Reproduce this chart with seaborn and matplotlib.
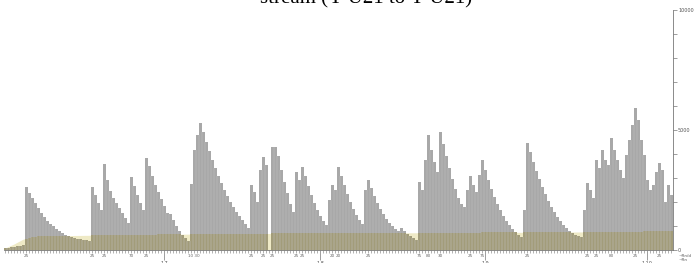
import numpy as np
import pandas as pd
import matplotlib
matplotlib.use('Agg')
import matplotlib.pyplot as plt
import seaborn as sns

# daily streamflow (one bar per day)
flow = [80, 80, 130, 130, 170, 170, 210,
        2630,
        2380, 2170, 1960, 1750, 1540, 1380, 1210, 1080, 1000, 880, 790, 710, 630, 580, 540, 500, 460, 460, 420, 420, 380,
        2630, 2290, 1960, 1670, 3590,
        2920, 2460, 2170, 1960, 1750, 1540, 1330, 1130,
        3040, 2670, 2290, 1960, 1670,
        3840,
        3500, 3090, 2710, 2420, 2130, 1830, 1540, 1500, 1250, 1000, 790, 630, 500, 380,
        2750, 4170, 4800, 5300,
        4920, 4500, 4130, 3750, 3420, 3090, 2790, 2500, 2250, 2000, 1790, 1580, 1420, 1250, 1080, 920,
        2710, 2420, 2000, 3340, 3880, 3540,
        0,
        4300, 4300, 3920, 3340, 2840, 2380, 1920, 1580,
        3250, 2920, 3460, 3090, 2670, 2290, 1960, 1670, 1420, 1210, 1040,
        2090, 2710, 2500, 3460, 3090, 2710, 2340, 2000, 1710, 1460, 1250, 1080,
        2500, 2920, 2590, 2250, 1960, 1710, 1500, 1290, 1130, 1000, 880, 790, 920, 790, 670, 580, 500, 420,
        2840, 2500, 3750, 4800, 4170, 3670, 3250, 4920, 4420, 3920, 3420, 2960, 2540, 2170, 1920, 1790,
        2500, 3090, 2710, 2420, 3130, 3750, 3340, 2920, 2540, 2210, 1920, 1670, 1420, 1210, 1040, 880, 750, 630, 540,
        1670, 4460, 4090, 3670, 3290, 2960, 2630, 2340, 2040, 1790, 1580, 1380, 1210, 1040, 920, 790, 710, 630, 580, 540,
        1670, 2790, 2500, 2170, 3750, 3420, 4170, 3750, 3540, 4670, 4170, 3750, 3340, 3000, 3960, 4590, 5210, 5920,
        5420, 4590, 3960, 2920, 2500, 2710, 3250, 3630, 3340, 2000, 2710, 2290]

# baseflow band (breakpoints)
base_days = [0, 3, 6, 10, 20, 60, 100, 140, 180, 200, 222.5]
base_vals = [80, 250, 450, 560, 600, 660, 700, 720, 740, 760, 780]

# bars drawn darker at event onsets
dark_days = [42, 46, 86, 96, 144, 175]

# axis labels
month_days = [53, 105, 160, 214]
month_labels = ['1.7', '1.8', '1.9', '1.10']
event_days = [7, 29, 33, 42, 47, 63, 82, 86, 89, 97, 99, 109, 111, 121, 138, 141, 145, 155, 159, 174, 194, 197, 202, 210, 218]
event_labels = ['25', '25', '25', '70', '25', '10 30', '25', '25', '25', '25', '25', '20', '20', '25',
                '75', '80', '30', '25', '75', '25', '25', '25', '80', '25', '25']

df = pd.DataFrame({'day': np.arange(len(flow)), 'flow': flow})

sns.set_style('white')
plt.rcParams['font.family'] = ['DejaVu Sans']

fig = plt.figure(figsize=(7, 2.63), dpi=100)
ax = fig.add_axes([3.5 / 700, 13 / 263, 669 / 700, 240 / 263])

# pale band behind the bars
ax.fill_between(base_days, 0, base_vals, color='#efeac6', lw=0, zorder=0)

sns.barplot(data=df, x='day', y='flow', native_scale=True, color='#a8a8a8',
            saturation=1, width=1.0, linewidth=0, errorbar=None, ax=ax, zorder=2)

# darker onset lines
ax.bar(dark_days, [flow[d] for d in dark_days], width=0.3, color='#6e6e6e', lw=0, zorder=3)

# baseflow part of the bars (olive)
base_daily = np.interp(df['day'], base_days, base_vals)
ax.bar(df['day'], np.minimum(df['flow'], base_daily), width=1.0, color='#a29c7a', lw=0, zorder=4)

# faint day separators
ax.vlines(np.arange(len(flow)) + 0.5, 0, np.minimum(flow, np.r_[flow[1:], 0]),
          color='#c4c4c4', lw=0.35, zorder=5)

ax.set_xlim(-0.5, len(flow) - 0.5)
ax.set_ylim(0, 10000)
ax.set_xlabel('')
ax.set_ylabel('')

for s in ['left', 'top']:
    ax.spines[s].set_visible(False)
ax.spines['right'].set_color('#777777')
ax.spines['bottom'].set_color('#777777')
ax.spines['right'].set_linewidth(0.6)
ax.spines['bottom'].set_linewidth(0.6)

# right axis ticks
ax.yaxis.tick_right()
ax.set_yticks([0, 5000, 10000])
ax.set_yticklabels(['0', '5000', '10000'])
ax.set_yticks(np.arange(0, 10001, 1000), minor=True)
ax.tick_params(axis='y', which='both', right=True, direction='out', length=3, width=0.5,
               color='#777777', labelsize=3.5, labelcolor='#555555', pad=1)

# bottom ticks: one per day, longer at months
ax.set_xticks(month_days)
ax.set_xticklabels(month_labels)
ax.set_xticks(np.arange(len(flow)), minor=True)
ax.tick_params(axis='x', which='major', bottom=True, length=7, width=0.5, color='#777777',
               labelsize=3.5, labelcolor='#555555', pad=1)
ax.tick_params(axis='x', which='minor', bottom=True, length=2, width=0.4, color='#777777')

for d, lab in zip(event_days, event_labels):
    ax.text(d, -180, lab, ha='center', va='top', fontsize=3, color='#666666', clip_on=False)

ax.text(len(flow) + 1.5, -150, '~Rn/d\n~Rn', ha='left', va='top', fontsize=3, color='#555555', clip_on=False)

fig.text(366 / 700, 1.006, 'stream (Y-U21 to Y-U21)', ha='center', va='center',
         fontsize=15, family='Liberation Serif', color='black')

fig.savefig('out.png', dpi=100, facecolor='white')
